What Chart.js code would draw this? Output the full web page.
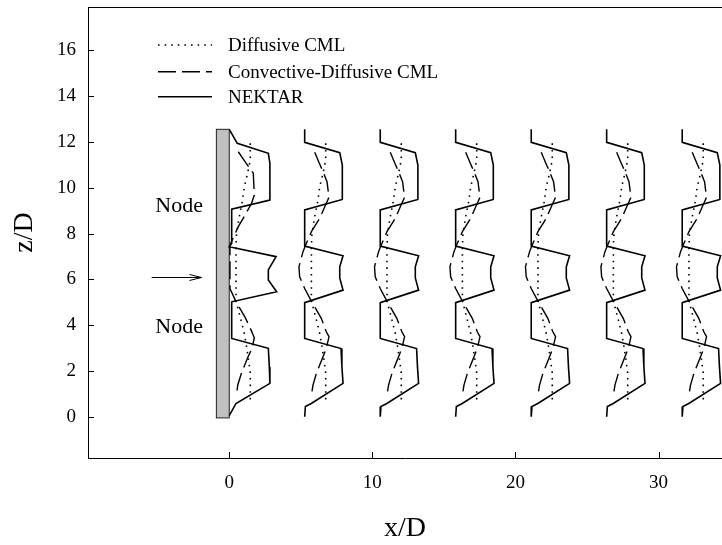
<!DOCTYPE html>
<html><head><meta charset="utf-8">
<script src="https://cdn.jsdelivr.net/npm/chart.js@4.4.1/dist/chart.umd.min.js"></script>
<style>html,body{margin:0;padding:0;background:#fff}canvas{display:block}</style>
</head><body>
<canvas id="c" width="722" height="545"></canvas>
<script>
// ---- data ----
const stationX = [0, 5.27, 10.55, 15.82, 21.1, 26.37, 31.65];

// NEKTAR profile at the cylinder face (station 0)
const nektarFaceDx = [0, 0.56, 2.73, 2.84, 2.84, 0.17, 0.17, 0, 3.27, 2.73, 2.73, 3.31, 0.17, 0.17, 2.73, 2.8, 2.84, 0.47, 0];
const nektarFaceZ  = [12.55, 11.94, 11.5, 11.07, 9.46, 9.06, 7.57, 7.42, 6.99, 6.41, 5.97, 5.46, 5.02, 3.42, 2.99, 2.18, 1.46, 0.58, 0.05];
// NEKTAR profile at the wake stations
const nektarWakeDx = [0, 0, 2.45, 2.63, 2.63, 0, 0, 2.68, 2.45, 2.45, 2.68, 0, 0, 2.54, 2.6, 2.68, 0.46, 0.05, 0];
const nektarWakeZ  = [12.55, 11.98, 11.53, 10.99, 9.49, 9.03, 7.45, 7.03, 6.55, 6.06, 5.53, 4.98, 3.42, 2.98, 2.2, 1.46, 0.58, 0.45, 0];

// Convective-Diffusive CML
const convFaceDx = [0.63, 1.15, 1.68, 1.75, 1.56, 1.1, 0.63, 0.05, 0.05, 0.45, 1.1, 1.55, 1.75, 1.6, 1.3, 0.85, 0.6, 0.5];
const convFaceZ  = [11.57, 11.1, 10.63, 9.68, 9.32, 8.8, 8.3, 7.5, 5.6, 5.05, 4.35, 3.75, 3.45, 3.0, 2.6, 1.9, 1.4, 0.95];
const convWakeDx = [0.7, 1.0, 1.28, 1.56, 1.7, 1.51, 1.05, 0.47, 0.07, -0.12, -0.4, -0.35, 0, 0.47, 1.16, 1.51, 1.7, 1.51, 1.28, 0.82, 0.58, 0.47];
const convWakeZ  = [11.55, 11.1, 10.7, 10.26, 9.58, 9.32, 8.66, 8.08, 7.5, 7.2, 6.55, 6.11, 5.6, 5.05, 4.3, 3.71, 3.5, 2.98, 2.62, 1.9, 1.38, 0.95];

// Diffusive CML
const diffDx = [1.47, 1.47, 1.28, 1.05, 0.93, 0.7, 0.51, 0.47, 0.47, 0.58, 0.82, 1.05, 1.21, 1.35, 1.47, 1.47];
const diffZ  = [11.94, 11.21, 10.63, 10.04, 9.46, 8.73, 8.0, 7.42, 5.0, 4.8, 4.22, 3.64, 3.06, 2.48, 1.9, 0.58];

const xTicks = [0, 10, 20, 30];
const zTicks = [0, 2, 4, 6, 8, 10, 12, 14, 16];
const seriesLabels = ['Diffusive CML', 'Convective-Diffusive CML', 'NEKTAR'];

const cylinderX = [-0.9, 0];
const cylinderZ = [-0.05, 12.55];
const arrowX = [-5.42, -1.94];
const arrowZ = 6.1;
const nodeText = ['Node', 'Node'];
const nodeX = [-3.5, -3.5];
const nodeZ = [9.2, 3.9];

// ---- build series ----
function buildSeries(faceDx, faceZ, wakeDx, wakeZ) {
  const pts = [];
  stationX.forEach((sx, i) => {
    const dx = i === 0 ? faceDx : wakeDx;
    const z = i === 0 ? faceZ : wakeZ;
    dx.forEach((d, k) => pts.push({x: sx + d, y: z[k]}));
    pts.push({x: sx, y: null});
  });
  return pts;
}

const SERIF = "'Liberation Serif', 'DejaVu Serif', serif";
Chart.defaults.color = '#000';

const overlay = {
  id: 'overlay',
  beforeDatasetsDraw(chart) {
    const {ctx, scales: {x, y}} = chart;
    ctx.save();
    const l = x.getPixelForValue(cylinderX[0]), r = x.getPixelForValue(cylinderX[1]);
    const t = y.getPixelForValue(cylinderZ[1]), b = y.getPixelForValue(cylinderZ[0]);
    ctx.fillStyle = '#c0c0c0';
    ctx.fillRect(l, t, r - l, b - t);
    ctx.strokeStyle = '#222';
    ctx.lineWidth = 1;
    ctx.strokeRect(l, t, r - l, b - t);
    ctx.restore();
  },
  afterDraw(chart) {
    const {ctx, chartArea: a, scales: {x, y}} = chart;
    ctx.save();
    ctx.strokeStyle = '#000';
    ctx.lineWidth = 1;
    ctx.setLineDash([]);
    // top frame
    ctx.beginPath();
    ctx.moveTo(a.left, Math.round(a.top) + 0.5);
    ctx.lineTo(a.right, Math.round(a.top) + 0.5);
    ctx.stroke();
    // inward tick marks
    ctx.beginPath();
    zTicks.forEach(v => {
      const p = Math.round(y.getPixelForValue(v)) + 0.5;
      ctx.moveTo(a.left, p); ctx.lineTo(a.left + 6, p);
    });
    xTicks.forEach(v => {
      const p = Math.round(x.getPixelForValue(v)) + 0.5;
      ctx.moveTo(p, a.bottom); ctx.lineTo(p, a.bottom - 6);
    });
    ctx.stroke();
    // arrow
    const ax0 = x.getPixelForValue(arrowX[0]), ax1 = x.getPixelForValue(arrowX[1]);
    const ay = Math.round(y.getPixelForValue(arrowZ)) + 0.5;
    ctx.beginPath();
    ctx.moveTo(ax0, ay); ctx.lineTo(ax1, ay);
    ctx.moveTo(ax1 - 12, ay - 3); ctx.lineTo(ax1, ay); ctx.lineTo(ax1 - 12, ay + 3);
    ctx.stroke();
    // node labels
    ctx.fillStyle = '#000';
    ctx.font = '22px ' + SERIF;
    ctx.textAlign = 'center';
    ctx.textBaseline = 'middle';
    nodeText.forEach((t, i) => ctx.fillText(t, x.getPixelForValue(nodeX[i]), y.getPixelForValue(nodeZ[i])));
    // legend
    const rowY = [45, 71.7, 96.7];
    ctx.font = '19px ' + SERIF;
    ctx.textAlign = 'left';
    chart.data.datasets.forEach((ds, i) => {
      ctx.save();
      ctx.lineWidth = ds.borderWidth;
      ctx.setLineDash(ds.borderDash || []);
      ctx.lineCap = 'butt';
      ctx.beginPath();
      ctx.moveTo(158, rowY[i]); ctx.lineTo(212, rowY[i]);
      ctx.stroke();
      ctx.restore();
      ctx.fillText(ds.label, 228, rowY[i] + 1);
    });
    ctx.restore();
  }
};

const common = {showLine: true, borderColor: '#000', pointRadius: 0, pointHoverRadius: 0, borderCapStyle: 'butt', tension: 0, fill: false};

new Chart(document.getElementById('c'), {
  type: 'scatter',
  data: {
    datasets: [
      Object.assign({label: seriesLabels[0], data: buildSeries(diffDx, diffZ, diffDx, diffZ), borderWidth: 1.6, borderDash: [1.6, 5]}, common),
      Object.assign({label: seriesLabels[1], data: buildSeries(convFaceDx, convFaceZ, convWakeDx, convWakeZ), borderWidth: 1.4, borderDash: [18, 6]}, common),
      Object.assign({label: seriesLabels[2], data: buildSeries(nektarFaceDx, nektarFaceZ, nektarWakeDx, nektarWakeZ), borderWidth: 1.6, borderDash: []}, common)
    ]
  },
  options: {
    responsive: false,
    animation: false,
    devicePixelRatio: 1,
    layout: {padding: {top: 7, right: 0, bottom: 0, left: 0}},
    plugins: {legend: {display: false}, tooltip: {enabled: false}},
    scales: {
      x: {
        type: 'linear', min: -9.87, max: 34.43,
        afterBuildTicks: s => { s.ticks = xTicks.map(v => ({value: v})); },
        afterFit: s => { s.height = 87; s.paddingLeft = 0; s.paddingRight = 0; },
        grid: {display: false, drawTicks: false},
        border: {display: true, color: '#000', width: 1},
        ticks: {padding: 14, font: {family: SERIF, size: 19}, color: '#000', maxRotation: 0},
        title: {display: true, text: 'x/D', font: {family: SERIF, size: 28}, color: '#000', padding: {top: 0, bottom: 0}}
      },
      y: {
        type: 'linear', min: -1.8, max: 17.89,
        afterBuildTicks: s => { s.ticks = zTicks.map(v => ({value: v})); },
        afterFit: s => { s.width = 88; s.paddingTop = 0; s.paddingBottom = 0; },
        grid: {display: false, drawTicks: false},
        border: {display: true, color: '#000', width: 1},
        ticks: {padding: 12, font: {family: SERIF, size: 19}, color: '#000'},
        title: {display: true, text: 'z/D', font: {family: SERIF, size: 28}, color: '#000', padding: {top: 8, bottom: 0}}
      }
    }
  },
  plugins: [overlay]
});
</script>
</body></html>
